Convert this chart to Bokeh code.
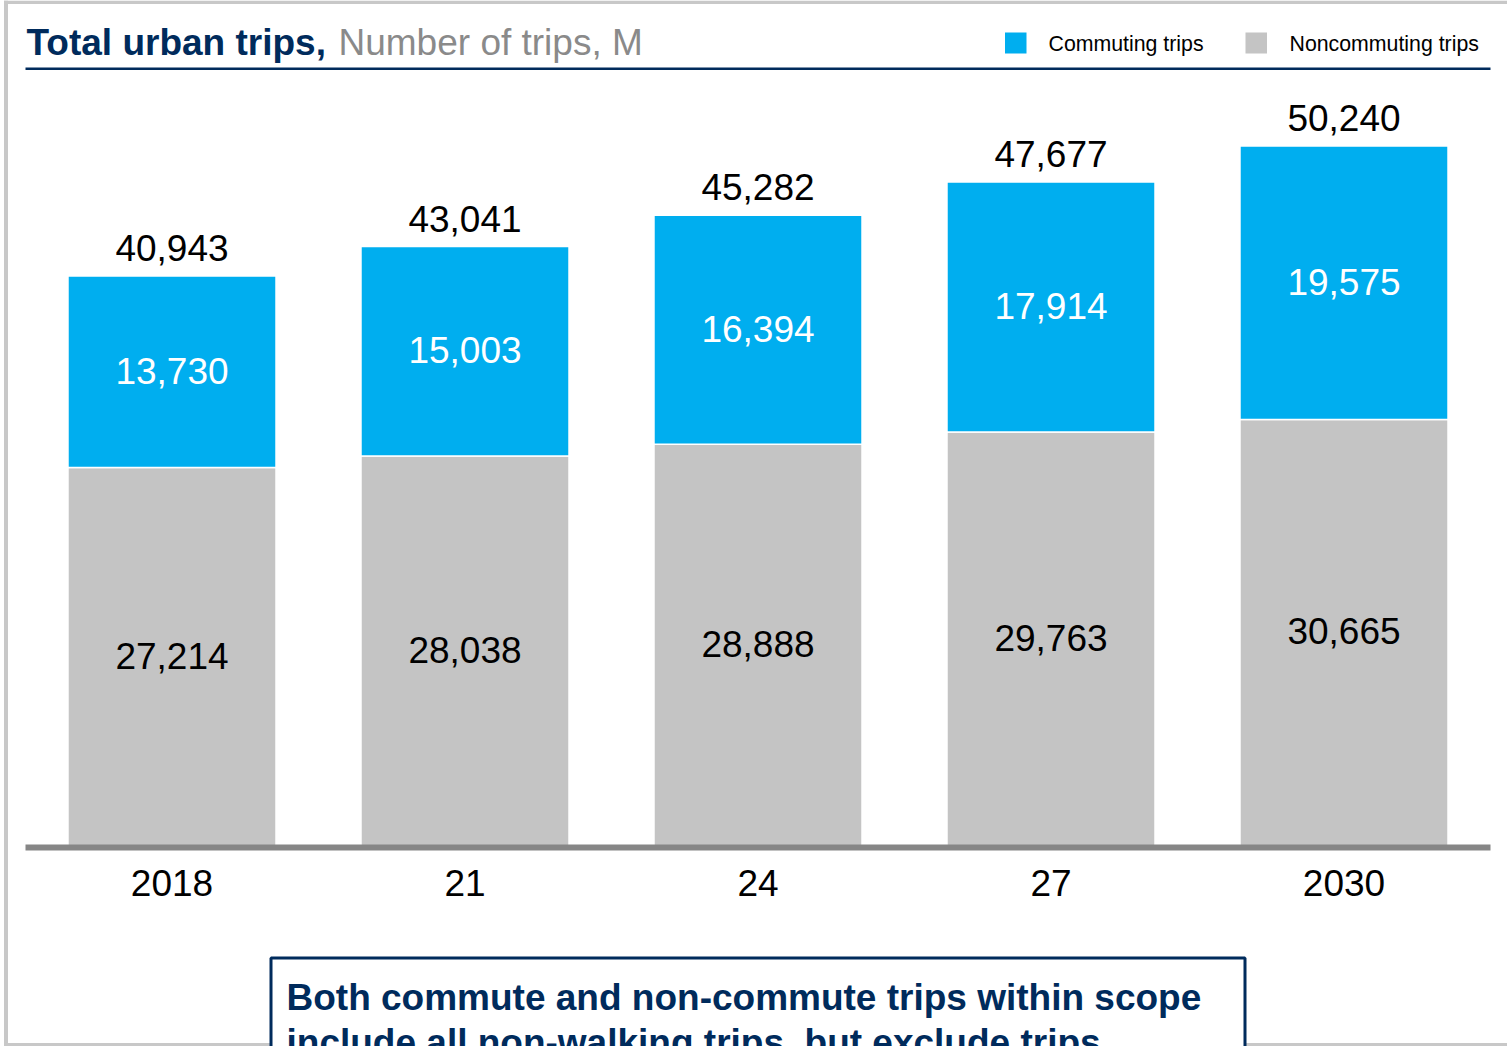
from bokeh.plotting import figure
from bokeh.models import Range1d, Label, BoxAnnotation, ColumnDataSource
from bokeh.core.properties import value
from bokeh.embed import file_html
from bokeh.resources import INLINE

# ---- data ----
years = ["2018", "21", "24", "27", "2030"]
commuting = [13730, 15003, 16394, 17914, 19575]
noncommuting = [27214, 28038, 28888, 29763, 30665]
totals = [40943, 43041, 45282, 47677, 50240]

title_bold = "Total urban trips,"
title_rest = "Number of trips, M"
legend_labels = ["Commuting trips", "Noncommuting trips"]
note_lines = ["Both commute and non-commute trips within scope",
              "include all non-walking trips, but exclude trips"]

BLUE = "#00AEEF"
GRAY = "#C4C4C4"
NAVY = "#002B5C"
AXIS = "#868686"
FONT = "Liberation Sans"

W, H = 1507, 1046


def sx(rx):
    return rx


def sy(ry):
    return H - ry


xpos = list(range(len(years)))
src = ColumnDataSource(dict(
    x=xpos,
    year=years,
    com=commuting,
    non=noncommuting,
    tot=totals,
    zero=[0] * len(years),
    non_mid=[n / 2 for n in noncommuting],
    com_mid=[n + c / 2 for n, c in zip(noncommuting, commuting)],
    tot_txt=[f"{v:,}" for v in totals],
    com_txt=[f"{v:,}" for v in commuting],
    non_txt=[f"{v:,}" for v in noncommuting],
))

# 293 px per category, first category centred at 171.5 px; 0 at 847 px from top
PX_X = 293.0
UNITS_PER_PX = 71.63
BASE = 847.0
p = figure(x_range=Range1d(-171.5 / PX_X, (W - 171.5) / PX_X),
           y_range=Range1d(-(H - BASE) * UNITS_PER_PX, BASE * UNITS_PER_PX),
           width=W, height=H, output_backend="svg", toolbar_location=None,
           x_axis_location=None, y_axis_location=None, title=None,
           min_border=0, min_border_left=0, min_border_right=0,
           min_border_top=0, min_border_bottom=0)
p.outline_line_color = None
p.xgrid.grid_line_color = None
p.ygrid.grid_line_color = None
p.background_fill_color = "white"
p.border_fill_color = "white"

# outer light-gray frame
for (l, r, t, b) in [(3.5, 7.5, 0, 1046), (3.5, 1507, 0, 3.5), (3.5, 1507, 1042.5, 1046)]:
    p.add_layout(BoxAnnotation(left=sx(l), right=sx(r), top=sy(t), bottom=sy(b),
                               left_units="screen", right_units="screen",
                               top_units="screen", bottom_units="screen",
                               fill_color="#C8C8C8", fill_alpha=1, line_color=None,
                               level="underlay"))

p.vbar(x="x", bottom="zero", top="non", width=0.71, source=src,
       fill_color=GRAY, line_color="white", line_width=1.5)
p.vbar(x="x", bottom="non", top="tot", width=0.71, source=src,
       fill_color=BLUE, line_color="white", line_width=1.5)

# category axis line and labels
p.segment(x0=xpos[0] - 0.5, y0=0, x1=xpos[-1] + 0.5, y1=0,
          line_width=6, line_color=AXIS)
p.text(x="x", y="zero", text="year", source=src, text_align="center",
       text_baseline="middle", y_offset=35.5, text_font=value(FONT),
       text_font_size="37px", text_color="black")

p.text(x="x", y="tot", text="tot_txt", source=src, text_align="center",
       text_baseline="middle", y_offset=-28, text_font=value(FONT),
       text_font_size="37px", text_color="black")
p.text(x="x", y="com_mid", text="com_txt", source=src, text_align="center",
       text_baseline="middle", y_offset=-1, text_font=value(FONT),
       text_font_size="37px", text_color="white")
p.text(x="x", y="non_mid", text="non_txt", source=src, text_align="center",
       text_baseline="middle", y_offset=-2, text_font=value(FONT),
       text_font_size="37px", text_color="black")

# title
p.add_layout(Label(x=sx(26), y=sy(42), x_units="screen", y_units="screen",
                   text=title_bold, text_font=FONT, text_font_style="bold",
                   text_font_size="37px", text_color=NAVY,
                   text_baseline="middle"))
p.add_layout(Label(x=sx(338), y=sy(42), x_units="screen", y_units="screen",
                   text=title_rest, text_font=FONT, text_font_size="37px",
                   text_color="#8A8A8A", text_baseline="middle"))
p.add_layout(BoxAnnotation(left=sx(25), right=sx(1490), top=sy(67), bottom=sy(69.5),
                           left_units="screen", right_units="screen",
                           top_units="screen", bottom_units="screen",
                           fill_color=NAVY, fill_alpha=1, line_color=None))

# legend
for lx, tx, col, lab in [(1004.5, 1048, BLUE, legend_labels[0]),
                          (1245, 1289, GRAY, legend_labels[1])]:
    p.add_layout(BoxAnnotation(left=sx(lx), right=sx(lx + 21.5), top=sy(32), bottom=sy(53),
                               left_units="screen", right_units="screen",
                               top_units="screen", bottom_units="screen",
                               fill_color=col, fill_alpha=1, line_color=None))
    p.add_layout(Label(x=sx(tx), y=sy(43), x_units="screen", y_units="screen",
                       text=lab, text_font=FONT, text_font_size="21.3px",
                       text_color="black", text_baseline="middle"))

# note box
p.add_layout(BoxAnnotation(left=sx(270.5), right=sx(1244.5), top=sy(957.5), bottom=sy(1120),
                           left_units="screen", right_units="screen",
                           top_units="screen", bottom_units="screen",
                           fill_color="white", fill_alpha=1,
                           line_color=NAVY, line_alpha=1, line_width=3))
for i, line in enumerate(note_lines):
    p.add_layout(Label(x=sx(286), y=sy(997 + 45 * i), x_units="screen", y_units="screen",
                       text=line, text_font=FONT, text_font_style="bold",
                       text_font_size="37px", text_color=NAVY,
                       text_baseline="middle"))

open("out.html", "w").write(file_html(p, INLINE))
